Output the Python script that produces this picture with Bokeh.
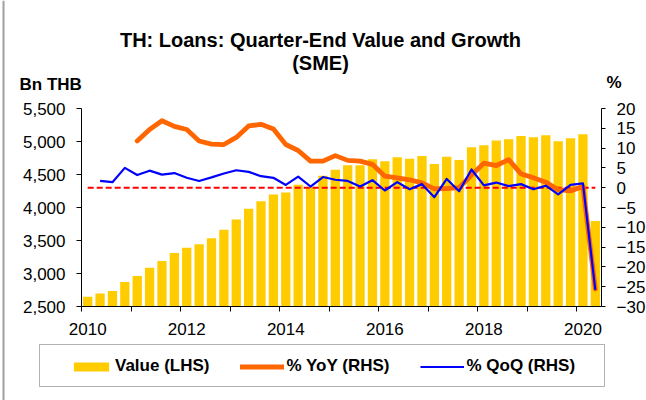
from bokeh.plotting import figure
from bokeh.models import (Range1d, LinearAxis, FixedTicker, NumeralTickFormatter,
                          Label, Legend, LegendItem, BoxAnnotation, Span, ColumnDataSource)
from bokeh.embed import file_html
from bokeh.resources import INLINE

nan = float("nan")

# ---- data ----
quarters = [f"{y}Q{q}" for y in range(2010, 2021) for q in range(1, 5)][:42]
value_bn = [2647, 2698, 2733, 2870, 2961, 3088, 3189, 3311, 3392, 3443, 3534, 3661,
            3818, 3980, 4096, 4198, 4228, 4345, 4310, 4482, 4573, 4639, 4642, 4730,
            4700, 4760, 4740, 4781, 4659, 4769, 4718, 4912, 4943, 5014, 5034, 5085,
            5064, 5095, 5004, 5049, 5110, 3797]
yoy_pct = [nan, nan, nan, nan, 11.8, 14.7, 16.9, 15.5, 14.7, 11.8, 11.0, 10.9,
           12.7, 15.6, 16.0, 14.8, 10.9, 9.4, 6.7, 6.7, 8.1, 6.9, 6.7, 5.9,
           2.9, 2.5, 2.0, 1.2, -0.3, -0.2, 0.0, 3.2, 6.2, 5.6, 7.1, 3.5,
           2.5, 1.4, -0.5, -0.8, 0.3, -25.6]
qoq_pct = [nan, 1.7, 1.4, 5.0, 3.2, 4.3, 3.3, 3.7, 2.5, 1.7, 2.6, 3.6,
           4.4, 4.0, 2.9, 2.5, 0.7, 2.8, 0.3, 2.7, 2.0, 1.7, 0.3, 1.9,
           -0.7, 1.4, -0.4, 0.9, -2.4, 2.2, -0.9, 4.6, 0.6, 1.3, 0.4, 0.9,
           -0.4, 0.5, -1.7, 0.7, 1.1, -25.8]
year_labels = ["2010", "2012", "2014", "2016", "2018", "2020"]
left_ticks = [2500, 3000, 3500, 4000, 4500, 5000, 5500]
right_ticks = [-30, -25, -20, -15, -10, -5, 0, 5, 10, 15, 20]

xs = list(range(len(quarters)))
src = ColumnDataSource(dict(x=xs, q=quarters, v=value_bn, yoy=yoy_pct, qoq=qoq_pct))

FONT = "Liberation Sans"
W, H = 646, 400
# plot-area box in canvas pixels (the frame covers the whole canvas; axes are
# pinned with fixed_location so that texts around the plot area are not clipped)
PL, PR, PT, PB = 81, 601, 108, 306

def span_range(lo, hi, p_lo, p_hi, size):
    per = (hi - lo) / (p_hi - p_lo)
    return Range1d(lo - p_lo * per, hi + (size - p_hi) * per)

def span_range_y(lo, hi, size):
    per = (hi - lo) / (PB - PT)
    return Range1d(lo - (size - PB) * per, hi + PT * per)

x_lo, x_hi = -0.5, len(quarters) - 0.5
y_lo, y_hi = left_ticks[0], left_ticks[-1]
r_lo, r_hi = right_ticks[0], right_ticks[-1]

p = figure(width=W, height=H, output_backend="svg", toolbar_location=None,
           x_range=span_range(x_lo, x_hi, PL, PR, W),
           y_range=span_range_y(y_lo, y_hi, H),
           min_border=0, min_border_left=0, min_border_right=0,
           min_border_top=0, min_border_bottom=0)
p.extra_y_ranges = {"pct": span_range_y(r_lo, r_hi, H)}
p.outline_line_color = None
p.xgrid.visible = False
p.ygrid.visible = False
p.background_fill_color = "white"
p.border_fill_color = "white"

# x axis: year boundary tick marks, labels at Q1 of even years
label_pos = [i for i, q in enumerate(quarters) if q.endswith("Q1") and q[:4] in year_labels]
boundary = [i - 0.5 for i, q in enumerate(quarters) if q.endswith("Q1")]
xa = p.xaxis[0]
xa.fixed_location = y_lo
xa.bounds = (x_lo, x_hi)
xa.ticker = FixedTicker(ticks=label_pos, minor_ticks=boundary)
xa.major_label_overrides = {i: quarters[i][:4] for i in label_pos}
xa.major_tick_out = 0
xa.major_tick_in = 0
xa.minor_tick_out = 5
xa.minor_tick_in = 0
xa.major_label_standoff = 11

ya = p.yaxis[0]
ya.fixed_location = x_lo
ya.bounds = (y_lo, y_hi)
ya.ticker = FixedTicker(ticks=left_ticks)
ya.formatter = NumeralTickFormatter(format="0,0")
ya.major_tick_out = 5
ya.major_tick_in = 0
ya.minor_tick_out = 0
ya.minor_tick_in = 0
ya.major_label_standoff = 11

ra = LinearAxis(y_range_name="pct", ticker=FixedTicker(ticks=right_ticks),
                fixed_location=x_hi, bounds=(r_lo, r_hi))
ra.major_tick_out = 4
ra.major_tick_in = 0
ra.minor_tick_out = 0
ra.minor_tick_in = 0
ra.major_label_standoff = 11
p.add_layout(ra, "right")

for ax in (xa, ya, ra):
    ax.axis_line_color = "black"
    ax.major_tick_line_color = "black"
    ax.minor_tick_line_color = "black"
    ax.major_label_text_font = FONT
    ax.major_label_text_font_size = "17px"
    ax.major_label_text_color = "black"

bars = p.vbar(x="x", top="v", bottom=y_lo, width=0.75, source=src,
              fill_color="#FFCC00", line_color=None)
p.line(x=[xs[0], xs[-1]], y=[0, 0], y_range_name="pct",
       line_color="#FF0000", line_width=2, line_dash="6 3")
yoy_r = p.line(x="x", y="yoy", source=src, y_range_name="pct",
               line_color="#FF6600", line_width=4.8, line_join="round", line_cap="round")
qoq_r = p.line(x="x", y="qoq", source=src, y_range_name="pct",
               line_color="#0000FF", line_width=2.2, line_join="round")

# texts
for txt, yy in (("TH: Loans: Quarter-End Value and Growth", 39), ("(SME)", 62)):
    p.add_layout(Label(x=320, y=yy, x_units="canvas", y_units="canvas", text=txt,
                       text_font=FONT, text_font_size="20px", text_font_style="bold",
                       text_color="black", text_align="center",
                       text_baseline="alphabetic"))
p.add_layout(Label(x=19, y=84, x_units="canvas", y_units="canvas", text="Bn THB",
                   text_font=FONT, text_font_size="17px", text_font_style="bold",
                   text_color="black", text_baseline="alphabetic"))
p.add_layout(Label(x=606, y=82, x_units="canvas", y_units="canvas", text="%",
                   text_font=FONT, text_font_size="17px", text_font_style="bold",
                   text_color="black", text_baseline="alphabetic"))

# chart border (left edge) and legend frame
p.add_layout(Span(location=3, location_units="screen", dimension="height",
                  line_color="#a0a0a0", line_width=2))
p.add_layout(BoxAnnotation(left=39, right=604, top=344, bottom=386,
                           left_units="canvas", right_units="canvas",
                           top_units="canvas", bottom_units="canvas",
                           fill_alpha=0, line_color="black", line_width=1))

legend = Legend(items=[LegendItem(label="Value (LHS)", renderers=[bars]),
                       LegendItem(label="% YoY (RHS)", renderers=[yoy_r]),
                       LegendItem(label="% QoQ (RHS)", renderers=[qoq_r])],
                location=(69, 24), orientation="horizontal",
                padding=0, margin=0, spacing=31, glyph_width=44, glyph_height=11,
                label_standoff=2, label_text_font=FONT, label_text_font_size="17px",
                label_text_font_style="bold", label_text_color="black",
                border_line_alpha=0, background_fill_alpha=0)
p.add_layout(legend, "center")

open("out.html", "w").write(file_html(p, INLINE))
